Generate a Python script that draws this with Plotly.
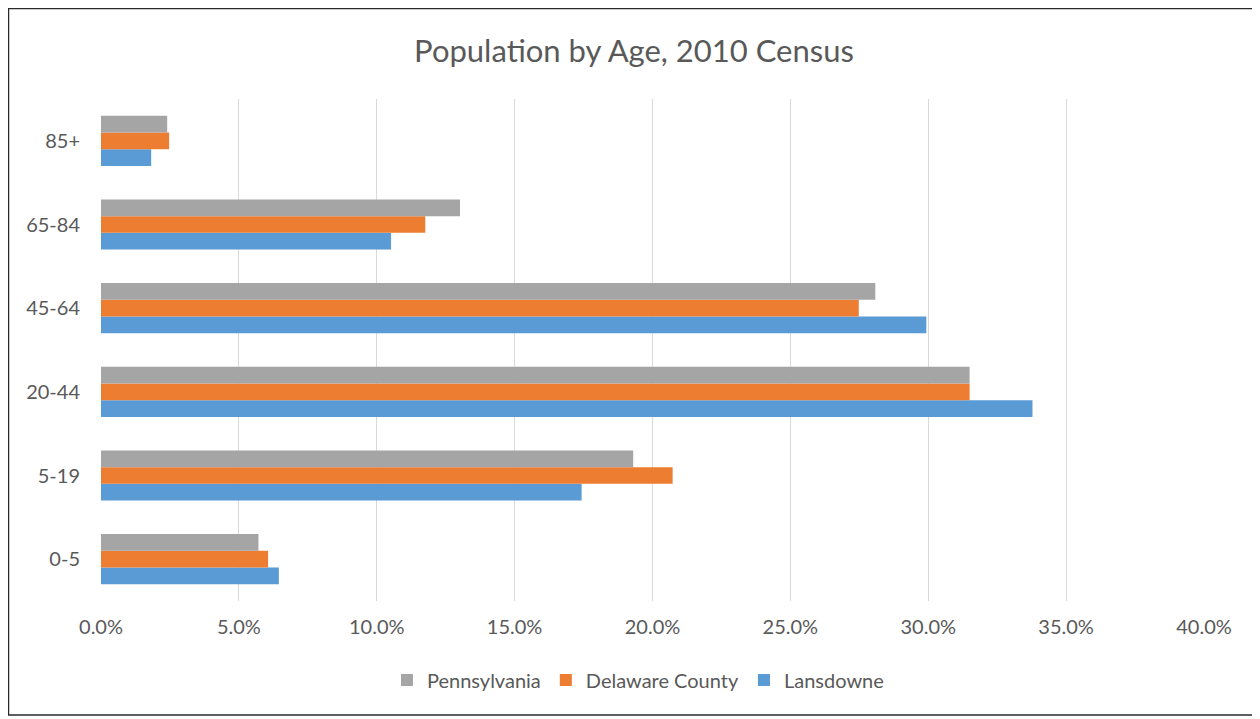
import plotly.graph_objects as go

categories = ["0-5", "5-19", "20-44", "45-64", "65-84", "85+"]
pennsylvania = [5.71, 19.30, 31.50, 28.08, 13.02, 2.40]
delaware_county = [6.06, 20.73, 31.50, 27.48, 11.76, 2.47]
lansdowne = [6.45, 17.43, 33.78, 29.93, 10.52, 1.82]
x_ticks = [0, 5, 10, 15, 20, 25, 30, 35, 40]
x_tick_labels = ["%.1f%%" % t for t in x_ticks]

FONT = "Lato"
TXT = "#595959"

# page body has an 8px margin; figure is sized to fit the viewport
W, H = 1252, 711
L, R, T, B = 93, 56, 91, 118
PW, PH = W - L - R, H - T - B


def px(x):
    return (x - L) / PW


def py(y):
    return (H - B - y) / PH


fig = go.Figure()
fig.add_trace(go.Bar(y=categories, x=lansdowne, name="Lansdowne", orientation="h",
                     marker=dict(color="#5B9BD5", line=dict(width=0))))
fig.add_trace(go.Bar(y=categories, x=delaware_county, name="Delaware County", orientation="h",
                     marker=dict(color="#ED7D31", line=dict(width=0))))
fig.add_trace(go.Bar(y=categories, x=pennsylvania, name="Pennsylvania", orientation="h",
                     marker=dict(color="#A5A5A5", line=dict(width=0))))

fig.update_layout(
    width=W, height=H,
    margin=dict(l=L, r=R, t=T, b=B),
    paper_bgcolor="white", plot_bgcolor="white",
    barmode="group", bargap=0.40, bargroupgap=0,
    font=dict(family=FONT, color=TXT, size=20),
    title=dict(text="Population by Age, 2010 Census", x=0.5, xanchor="center",
               y=1 - 43 / H, yanchor="middle",
               font=dict(family=FONT, size=31, color=TXT)),
    legend=dict(orientation="h", x=px(630), xanchor="center", y=py(672),
                yanchor="middle", traceorder="reversed",
                font=dict(family=FONT, size=20, color=TXT),
                itemwidth=30),
    showlegend=True,
    xaxis=dict(range=[0, 40], tickvals=x_ticks, ticktext=x_tick_labels,
               showgrid=True, gridcolor="#D9D9D9", gridwidth=1,
               zeroline=False, showline=False, ticks="",
               ticklabelstandoff=12,
               tickfont=dict(family=FONT, size=20, color=TXT)),
    yaxis=dict(showgrid=False, zeroline=False, showline=False, ticks="",
               ticklabelstandoff=20,
               tickfont=dict(family=FONT, size=20, color=TXT)),
    shapes=[dict(type="rect", xref="paper", yref="paper",
                 x0=px(0.5), x1=px(1246),
                 y0=py(707), y1=py(0.5),
                 line=dict(color="#2a2a2a", width=1.5), fillcolor="rgba(0,0,0,0)",
                 layer="below")],
)

fig.write_html("out.html")
